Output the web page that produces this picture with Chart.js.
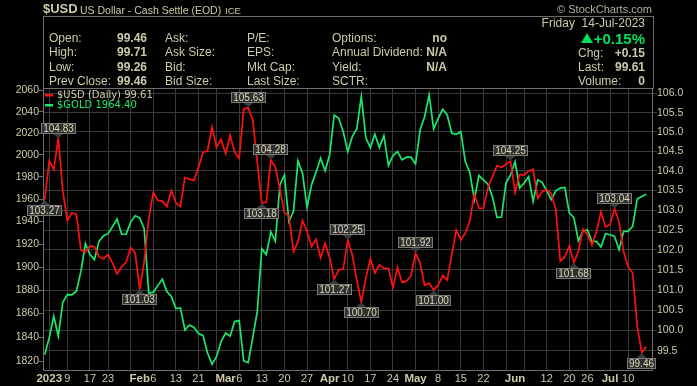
<!DOCTYPE html>
<html>
<head>
<meta charset="utf-8">
<script src="https://cdn.jsdelivr.net/npm/chart.js@4.4.1/dist/chart.umd.min.js"></script>
<style>
  body { margin: 0; background: #000; }
  #wrap { position: relative; width: 697px; height: 386px; background: #000; overflow: hidden;
          font-family: "Liberation Sans", Arial, sans-serif; color: #cfc9a8; }
  #chart { position: absolute; left: 0; top: 0; }
  .t { position: absolute; white-space: nowrap; font-size: 12px; line-height: 12px; }
  .b { font-weight: bold; }
  #box { position: absolute; left: 43px; top: 16px; width: 609px; height: 72px;
         border: 1px solid #6e6e6e; border-bottom: none; }
  #tri { position: absolute; left: 581px; top: 33px; width: 0; height: 0;
         border-left: 6px solid transparent; border-right: 6px solid transparent;
         border-bottom: 10px solid #00e060; }
</style>
</head>
<body>
<div id="wrap">
  <canvas id="chart" width="697" height="386"></canvas>
  <div id="box"></div>

  <!-- title line -->
  <div class="t b" style="left:43px;top:2px;font-size:13px;line-height:13px;">$USD</div>
  <div class="t" style="left:80px;top:4px;font-size:10.5px;">US Dollar - Cash Settle (EOD)</div>
  <div class="t" style="left:225px;top:5px;font-size:9.5px;">ICE</div>
  <div class="t" style="right:45px;top:3px;font-size:11px;color:#b3ae98;">© StockCharts.com</div>

  <!-- quote block -->
  <div class="t" style="left:49px;top:32px;">Open:</div>
  <div class="t" style="left:49px;top:46px;">High:</div>
  <div class="t" style="left:49px;top:61px;">Low:</div>
  <div class="t" style="left:49px;top:75px;">Prev Close:</div>
  <div class="t b" style="right:550px;top:32px;">99.46</div>
  <div class="t b" style="right:550px;top:46px;">99.71</div>
  <div class="t b" style="right:550px;top:61px;">99.26</div>
  <div class="t b" style="right:550px;top:75px;">99.46</div>

  <div class="t" style="left:165px;top:32px;">Ask:</div>
  <div class="t" style="left:165px;top:46px;">Ask Size:</div>
  <div class="t" style="left:165px;top:61px;">Bid:</div>
  <div class="t" style="left:165px;top:75px;">Bid Size:</div>

  <div class="t" style="left:247px;top:32px;">P/E:</div>
  <div class="t" style="left:247px;top:46px;">EPS:</div>
  <div class="t" style="left:247px;top:61px;">Mkt Cap:</div>
  <div class="t" style="left:247px;top:75px;">Last Size:</div>

  <div class="t" style="left:332px;top:32px;">Options:</div>
  <div class="t" style="left:332px;top:46px;">Annual Dividend:</div>
  <div class="t" style="left:332px;top:61px;">Yield:</div>
  <div class="t" style="left:332px;top:75px;">SCTR:</div>
  <div class="t b" style="right:250px;top:32px;">no</div>
  <div class="t b" style="right:250px;top:46px;">N/A</div>
  <div class="t b" style="right:250px;top:61px;">N/A</div>

  <div class="t" style="right:52px;top:17px;">Friday&nbsp; 14-Jul-2023</div>
  <div id="tri"></div>
  <div class="t b" style="right:52px;top:31px;font-size:15px;line-height:15px;color:#00e060;">+0.15%</div>
  <div class="t" style="left:578px;top:47px;">Chg:</div>
  <div class="t b" style="right:52px;top:47px;">+0.15</div>
  <div class="t" style="left:578px;top:61px;">Last:</div>
  <div class="t b" style="right:52px;top:61px;">99.61</div>
  <div class="t" style="left:578px;top:75px;">Volume:</div>
  <div class="t b" style="right:52px;top:75px;">0</div>
</div>

<script>
// --- trading days (Dec 30 2022 .. Jul 14 2023, US holidays removed)
const firstDay = "2022-12-30";
const lastDay = "2023-07-14";
const holidays = ["2023-01-02", "2023-01-16", "2023-02-20", "2023-04-07", "2023-05-29", "2023-06-19", "2023-07-04"];

// $USD daily close (right axis)
const usd = [
  103.27, 104.26, 104.04, 104.83, 103.49, 102.74, 102.93, 102.90, 102.00, 101.94,
  102.10, 102.08, 101.83, 101.78, 101.89, 101.67, 101.40, 101.58, 101.69, 102.06,
  101.92, 101.03, 101.70, 102.78, 103.45, 103.25, 103.23, 103.09, 103.50, 103.19,
  103.09, 103.83, 103.79, 103.75, 104.09, 104.48, 104.51, 105.13, 104.61, 104.81,
  104.44, 104.91, 104.48, 104.32, 105.59, 105.63, 105.31, 104.22, 103.18, 103.20,
  104.28, 104.09, 103.53, 102.94, 102.86, 101.96, 102.20, 102.74, 102.46, 102.08,
  102.27, 101.80, 102.17, 101.80, 101.27, 101.50, 101.52, 102.25, 101.88, 101.25,
  100.70, 101.29, 101.78, 101.42, 101.63, 101.54, 101.54, 101.06, 101.56, 101.19,
  101.22, 101.36, 101.92, 101.67, 101.12, 101.17, 101.00, 101.12, 101.36, 101.25,
  101.88, 102.50, 102.25, 102.42, 102.74, 103.41, 103.05, 103.05, 103.57, 103.85,
  104.13, 104.09, 104.17, 104.25, 103.45, 103.91, 103.89, 104.00, 104.04, 103.30,
  103.47, 103.53, 103.41, 103.03, 101.72, 101.83, 102.10, 101.68, 101.96, 102.52,
  102.38, 102.12, 102.46, 102.96, 102.58, 102.64, 103.04, 102.70, 101.96, 101.58,
  101.42, 100.12, 99.46, 99.61
];

// $GOLD (left axis)
const gold = [
  1825.5, 1839.5, 1857.7, 1840.8, 1869.6, 1876.2, 1876.0, 1879.0, 1896.2, 1920.4,
  1910.8, 1906.4, 1922.4, 1927.4, 1929.2, 1935.6, 1942.2, 1928.7, 1928.8, 1939.2,
  1945.1, 1943.3, 1933.6, 1877.6, 1878.1, 1883.9, 1889.5, 1878.8, 1874.5, 1864.2,
  1864.8, 1846.0, 1850.2, 1848.1, 1843.1, 1841.4, 1826.7, 1817.2, 1823.8, 1836.3,
  1843.5, 1840.9, 1853.2, 1854.0, 1820.1, 1818.6, 1839.5, 1861.9, 1916.0, 1910.8,
  1930.7, 1922.4, 1972.8, 1981.8, 1940.0, 1948.9, 1994.6, 1983.4, 1952.5, 1972.8,
  1984.3, 1997.0, 1985.5, 2000.0, 2036.9, 2033.8, 2021.4, 2003.0, 2016.8, 2023.9,
  2054.0, 2015.9, 2006.7, 2019.0, 2006.7, 2017.7, 1990.3, 1999.4, 2003.0, 1995.5,
  1997.9, 1997.9, 1991.8, 2023.0, 2035.3, 2055.6, 2023.9, 2033.8, 2042.2, 2036.9,
  2020.0, 2019.0, 2021.4, 1993.9, 1983.7, 1959.4, 1981.2, 1977.3, 1973.4, 1962.0,
  1943.6, 1944.0, 1974.6, 1981.8, 1993.9, 1969.9, 1974.4, 1980.3, 1957.8, 1977.3,
  1974.9, 1967.4, 1959.4, 1967.4, 1969.9, 1970.4, 1947.5, 1943.6, 1923.0, 1931.2,
  1932.7, 1922.4, 1922.4, 1917.5, 1929.2, 1928.3, 1926.8, 1915.1, 1931.2, 1931.2,
  1935.6, 1960.0, 1962.3, 1964.4
];

// labelled swing points on $USD
const markIdx = [0, 3, 21, 45, 48, 50, 64, 67, 70, 82, 86, 103, 117, 126, 132];
const markPos = ["below", "above", "below", "above", "below", "above", "below", "above",
                 "below", "above", "below", "above", "below", "above", "below"];

// x axis labels
const labelDates = ["2023-01-03", "2023-01-09", "2023-01-17", "2023-01-23", "2023-02-01", "2023-02-06",
  "2023-02-13", "2023-02-21", "2023-03-01", "2023-03-06", "2023-03-13", "2023-03-20", "2023-03-27",
  "2023-04-03", "2023-04-10", "2023-04-17", "2023-04-24", "2023-05-01", "2023-05-08", "2023-05-15",
  "2023-05-22", "2023-06-01", "2023-06-12", "2023-06-20", "2023-06-26", "2023-07-03", "2023-07-10"];
const labelText = ["2023", "9", "17", "23", "Feb", "6", "13", "21", "Mar", "6", "13", "20", "27",
  "Apr", "10", "17", "24", "May", "8", "15", "22", "Jun", "12", "20", "26", "Jul", "10"];

// y axis ticks
const goldTicks = [1820, 1840, 1860, 1880, 1900, 1920, 1940, 1960, 1980, 2000, 2020, 2040, 2060];
const usdTicks = [99.5, 100, 100.5, 101, 101.5, 102, 102.5, 103, 103.5, 104, 104.5, 105, 105.5, 106];

const legendNames = ["$USD (Daily) 99.61", "$GOLD 1964.40"];

// build trading day list
const dates = [];
for (let d = new Date(firstDay + "T00:00:00Z"); d <= new Date(lastDay + "T00:00:00Z"); d.setUTCDate(d.getUTCDate() + 1)) {
    const wd = d.getUTCDay();
    const s = d.toISOString().slice(0, 10);
    if (wd > 0 && wd < 6 && !holidays.includes(s)) dates.push(s);
}

// week starts get a grid line
const weekStart = new Set();
for (let i = 1; i < dates.length; i++) {
    const a = new Date(dates[i - 1] + "T00:00:00Z").getUTCDay();
    const b = new Date(dates[i] + "T00:00:00Z").getUTCDay();
    if (b < a) weekStart.add(i);
}
const labelAt = {};
labelDates.forEach((d, k) => { labelAt[dates.indexOf(d)] = labelText[k]; });
const xTickIdx = [...new Set([...weekStart, ...Object.keys(labelAt).map(Number)])].sort((a, b) => a - b);

const TEXT = "#cfc9a8";
const RED = "#ff1010";
const GREEN = "#19e86a";
const FONT = '"Liberation Sans", Arial, sans-serif';

// plot frame
const framePlugin = {
    id: "frame",
    afterDraw(c) {
        const a = c.chartArea, ctx = c.ctx;
        ctx.save();
        ctx.strokeStyle = "#6e6e6e";
        ctx.lineWidth = 1;
        ctx.strokeRect(a.left + 0.5, a.top + 0.5, a.right - a.left - 1, a.bottom - a.top - 1);
        ctx.restore();
    }
};

// value boxes on swing highs / lows
const markPlugin = {
    id: "marks",
    afterDraw(c) {
        const ctx = c.ctx, xs = c.scales.x, ys = c.scales.yR;
        ctx.save();
        ctx.font = "10px " + FONT;
        markIdx.forEach((i, k) => {
            const px = xs.getPixelForValue(i);
            const py = ys.getPixelForValue(usd[i]);
            const txt = usd[i].toFixed(2);
            const w = Math.round(ctx.measureText(txt).width) + 4, h = 11;
            const up = markPos[k] === "above";
            const by = up ? Math.round(py) - 5 - h : Math.round(py) + 5;
            const bx = Math.round(px - w / 2);
            ctx.fillStyle = "#3c3c3c";
            ctx.beginPath();
            if (up) { ctx.moveTo(px - 5, by + h); ctx.lineTo(px + 5, by + h); ctx.lineTo(px, py - 0.5); }
            else { ctx.moveTo(px - 5, by); ctx.lineTo(px + 5, by); ctx.lineTo(px, py + 0.5); }
            ctx.fill();
            ctx.fillStyle = "#303030";
            ctx.fillRect(bx, by, w, h);
            ctx.strokeStyle = "#7a7a7a";
            ctx.strokeRect(bx + 0.5, by + 0.5, w - 1, h - 1);
            ctx.fillStyle = "#ddd7b8";
            ctx.textAlign = "center";
            ctx.textBaseline = "middle";
            ctx.fillText(txt, bx + w / 2, by + h / 2 + 0.5);
        });
        ctx.restore();
    }
};

// legend in the top-left of the plot
const legendPlugin = {
    id: "inLegend",
    afterDraw(c) {
        const ctx = c.ctx, a = c.chartArea;
        ctx.save();
        ctx.font = '10px "DejaVu Sans", sans-serif';
        ctx.textBaseline = "middle";
        const rows = [[RED, TEXT], [GREEN, GREEN]];
        rows.forEach((r, k) => {
            const y = a.top + 7 + k * 10;
            ctx.fillStyle = r[0];
            ctx.fillRect(a.left + 2, y - 1, 8, 2.5);
            ctx.fillStyle = r[1];
            ctx.fillText(legendNames[k], a.left + 14, y + 0.5);
        });
        ctx.restore();
    }
};

const ctx = document.getElementById("chart").getContext("2d");
new Chart(ctx, {
    type: "line",
    data: {
        datasets: [
            {
                label: "$USD (Daily)",
                data: usd.map((v, i) => ({ x: i, y: v })),
                borderColor: RED,
                borderWidth: 1.7,
                pointRadius: 0,
                yAxisID: "yR",
            },
            {
                label: "$GOLD",
                data: gold.map((v, i) => ({ x: i, y: v })),
                borderColor: GREEN,
                borderWidth: 1.7,
                pointRadius: 0,
                yAxisID: "yL",
            },
        ],
    },
    options: {
        responsive: false,
        animation: false,
        devicePixelRatio: 1,
        layout: { padding: { top: 88, left: 0, right: 0, bottom: 0 } },
        plugins: { legend: { display: false }, tooltip: { enabled: false } },
        scales: {
            x: {
                type: "linear",
                min: -0.38,
                max: 134.5,
                afterBuildTicks: (s) => { s.ticks = xTickIdx.map((v) => ({ value: v })); },
                afterFit: (s) => { s.height = 15; },
                border: { display: false },
                grid: {
                    drawTicks: false,
                    color: (c) => (c.tick && weekStart.has(c.tick.value) ? "#3a3a3a" : "rgba(0,0,0,0)"),
                },
                ticks: {
                    autoSkip: false,
                    maxRotation: 0,
                    padding: 1,
                    color: TEXT,
                    font: (c) => {
                        const t = c.tick ? labelAt[c.tick.value] : "";
                        return (t && isNaN(+t)) || t === "2023"
                            ? { family: FONT, size: 11.5, weight: "bold" }
                            : { family: FONT, size: 11 };
                    },
                    callback: (v) => labelAt[v] || "",
                },
            },
            yL: {
                type: "logarithmic",
                position: "left",
                min: 1811.7,
                max: 2062.2,
                afterBuildTicks: (s) => { s.ticks = goldTicks.map((v) => ({ value: v })); },
                afterFit: (s) => { s.width = 43; },
                border: { display: false },
                grid: { drawOnChartArea: false, color: "#6e6e6e", tickLength: 4 },
                ticks: {
                    autoSkip: false,
                    padding: 0,
                    color: TEXT,
                    font: { family: FONT, size: 10.5 },
                    callback: (v) => String(v),
                },
            },
            yR: {
                type: "logarithmic",
                position: "right",
                min: 99.01,
                max: 106.14,
                afterBuildTicks: (s) => { s.ticks = usdTicks.map((v) => ({ value: v })); },
                afterFit: (s) => { s.width = 44; },
                border: { display: false },
                grid: { color: "#3a3a3a", tickLength: 4 },
                ticks: {
                    autoSkip: false,
                    padding: 0,
                    color: TEXT,
                    font: { family: FONT, size: 10.5 },
                    callback: (v) => Number(v).toFixed(1),
                },
            },
        },
    },
    plugins: [framePlugin, markPlugin, legendPlugin],
});
</script>
</body>
</html>
